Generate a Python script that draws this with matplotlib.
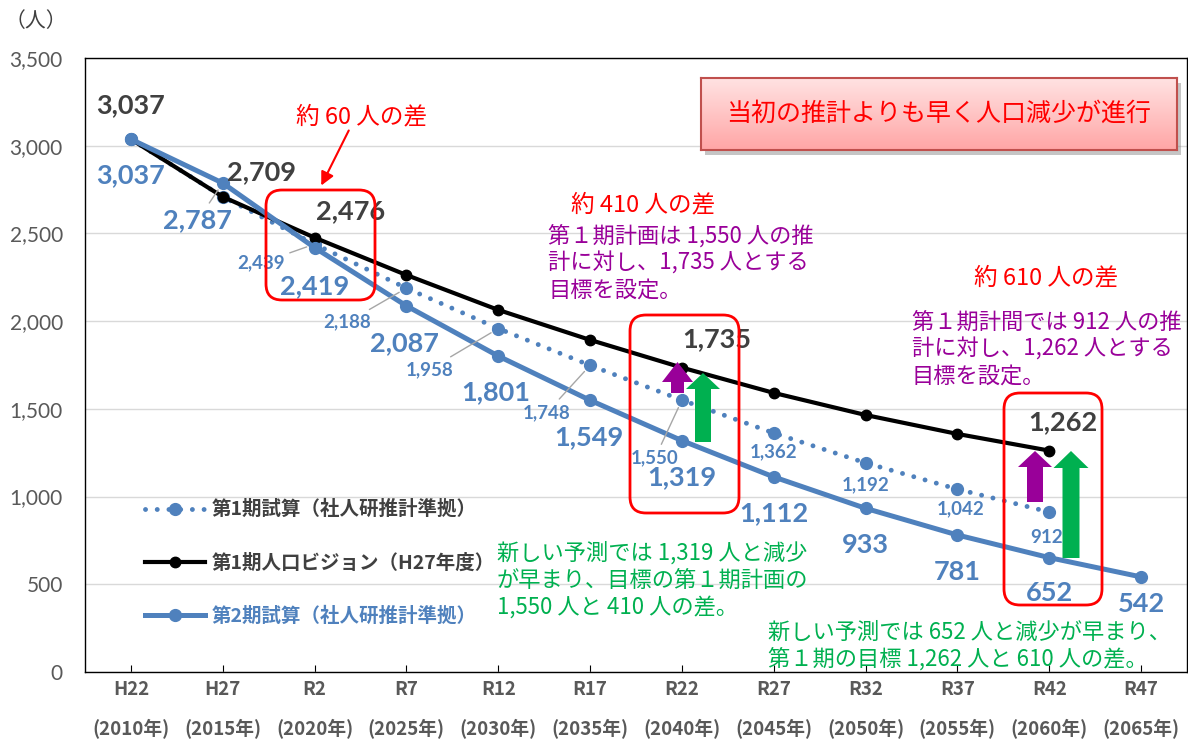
import numpy as np
import matplotlib
matplotlib.use("Agg")
import matplotlib.pyplot as plt
import matplotlib.patches as mpatches
import matplotlib.transforms as mtransforms

W, H = 1188, 745

categories = ["H22", "H27", "R2", "R7", "R12", "R17", "R22", "R27", "R32", "R37", "R42", "R47"]
years = ["2010", "2015", "2020", "2025", "2030", "2035", "2040", "2045", "2050", "2055", "2060", "2065"]

# 第1期試算（社人研推計準拠）
plan1_trial = [3037, 2709, 2439, 2188, 1958, 1748, 1550, 1362, 1192, 1042, 912, np.nan]
# 第1期人口ビジョン（H27年度）
vision = [3037, 2709, 2476, 2263, 2064, 1893, 1735, 1591, 1465, 1357, 1262, np.nan]
# 第2期試算（社人研推計準拠）
plan2_trial = [3037, 2787, 2419, 2087, 1801, 1549, 1319, 1112, 933, 781, 652, 542]

BLUE = "#4F81BD"
DARK = "#404040"
GRAY = "#595959"
PURPLE = "#990099"
GREEN = "#00B050"
JP = "Noto Sans CJK JP"
NUM = ["Lato", "Noto Sans CJK JP"]

plt.rcParams["font.family"] = [JP, "DejaVu Sans"]

fig = plt.figure(figsize=(W / 100, H / 100), dpi=100)
ax = fig.add_axes([85 / W, 1 - 672 / H, 1102 / W, 614 / H])
ax.set_zorder(1)

x = np.arange(len(categories))
ax.plot(x, plan1_trial, color=BLUE, lw=3.5, linestyle=(0, (0.01, 2.4)),
        dash_capstyle="round", marker="o", ms=8.5, zorder=2,
        label="第1期試算（社人研推計準拠）")
ax.plot(x, vision, color="black", lw=3, marker="o", ms=7.5, zorder=3,
        label="第1期人口ビジョン（H27年度）")
ax.plot(x, plan2_trial, color=BLUE, lw=3.6, marker="o", ms=8.5, zorder=4,
        label="第2期試算（社人研推計準拠）")

ax.set_xlim(-0.5, 11.5)
ax.set_ylim(0, 3500)
ax.set_yticks(np.arange(0, 3501, 500))
ax.set_yticklabels([f"{v:,}" for v in range(0, 3501, 500)], family=NUM,
                   fontsize=15, color=GRAY)
ax.set_xticks(x)
ax.set_xticklabels([f"{c}\n({y}年)" for c, y in zip(categories, years)],
                   fontsize=13.5, fontweight="bold", color=GRAY, linespacing=2.25)
ax.tick_params(axis="y", length=0, pad=16)
ax.tick_params(axis="x", direction="in", length=5, pad=6)
ax.grid(axis="y", color="#D9D9D9", lw=1)
ax.set_axisbelow(True)
for s in ax.spines.values():
    s.set_color("black")
    s.set_linewidth(1)

# data labels: (series, index, dx, dy, style, leader)
series = {"p1": plan1_trial, "v": vision, "p2": plan2_trial}
labels = [
    ("v", 0, 0, 34, "dark", False),
    ("p2", 0, 0, -36, "big", False),
    ("v", 1, 39, 25, "dark", False),
    ("p2", 1, -25, -37, "big", True),
    ("v", 2, 36, 26, "dark", False),
    ("p1", 2, -54, -19, "small", True),
    ("p2", 2, 0, -39, "big", False),
    ("p1", 3, -59, -34, "small", True),
    ("p2", 3, -2, -37, "big", False),
    ("p1", 4, -69, -41, "small", True),
    ("p2", 4, -2, -36, "big", False),
    ("p1", 5, -43, -47, "small", True),
    ("p2", 5, -1, -37, "big", False),
    ("p1", 6, -27, -58, "small", True),
    ("p2", 6, 0, -37, "big", False),
    ("v", 6, 35, 28, "dark", False),
    ("p1", 7, 0, -19, "small", False),
    ("p2", 7, 0, -36, "big", False),
    ("p1", 8, 0, -22, "small", False),
    ("p2", 8, 0, -37, "big", False),
    ("p1", 9, 3, -20, "small", False),
    ("p2", 9, 0, -37, "big", False),
    ("p1", 10, -3, -25, "small", False),
    ("p2", 10, 0, -35, "big", False),
    ("p2", 11, 0, -27, "big", False),
    ("v", 10, 14, 28, "dark", False),
]
styles = {"dark": (DARK, 19.5), "big": (BLUE, 19.5), "small": (BLUE, 13.5)}
for key, i, dx, dy, st, leader in labels:
    v = series[key][i]
    col, fs = styles[st]
    props = None
    if leader:
        props = dict(arrowstyle="-", color="#A6A6A6", lw=1, shrinkA=2, shrinkB=6)
    ax.annotate(f"{v:,}", xy=(i, v), xytext=(dx, dy), textcoords="offset pixels",
                ha="center", va="center", fontsize=fs, fontweight="bold",
                family=NUM, color=col, arrowprops=props, zorder=6)

leg = ax.legend(loc="upper left", bbox_to_anchor=(145 / W, 1 - 500 / H),
                bbox_transform=fig.transFigure, frameon=False, borderpad=0,
                borderaxespad=0, handlelength=3.1, handletextpad=0.35,
                labelspacing=1.75, prop=dict(family=JP, weight="bold", size=14))
for t, c in zip(leg.get_texts(), [DARK, DARK, BLUE]):
    t.set_color(c)

# overlay helpers in image pixels (origin top-left)
pix = mtransforms.Affine2D().scale(1, -1).translate(0, H)


def ftext(px, py, s, **kw):
    fig.text(px / W, 1 - py / H, s, **kw)


ftext(36, 21, "（人）", fontsize=15, color=DARK, ha="center", va="center")

for x0, y0, x1, y1 in [(266, 190, 375, 300), (630, 315, 739, 513), (1004, 393, 1102, 605)]:
    fig.add_artist(mpatches.FancyBboxPatch((x0, y0), x1 - x0, y1 - y0,
                                           boxstyle="round,pad=0,rounding_size=16",
                                           transform=pix, fill=False, ec="red",
                                           lw=2, zorder=3))

arrows = [(677.5, 393, 362, 13, 31, 20, PURPLE), (703, 442, 373, 16, 34, 16, GREEN),
          (1035, 502, 451, 16, 34, 16, PURPLE), (1071, 558, 451, 17, 35, 17, GREEN)]
for ax_x, yb, yt, w, hw, hl, c in arrows:
    fig.add_artist(mpatches.FancyArrow(ax_x, yb, 0, yt - yb, width=w, head_width=hw,
                                       head_length=hl, length_includes_head=True,
                                       transform=pix, color=c, lw=0, zorder=4))

fig.add_artist(mpatches.FancyArrowPatch((350, 128), (320, 188), transform=pix,
                                        arrowstyle="-|>", mutation_scale=20,
                                        color="red", lw=1.5, zorder=4))

ftext(362, 117, "約 60 人の差", fontsize=17, color="red", ha="center", va="center")
ftext(643, 205, "約 410 人の差", fontsize=17, color="red", ha="center", va="center")
ftext(1046, 278, "約 610 人の差", fontsize=17, color="red", ha="center", va="center")
ftext(548, 263, "第１期計画は 1,550 人の推\n計に対し、1,735 人とする\n目標を設定。",
      fontsize=16, color=PURPLE, ha="left", va="center", linespacing=1.2)
ftext(912, 349, "第１期計間では 912 人の推\n計に対し、1,262 人とする\n目標を設定。",
      fontsize=16, color=PURPLE, ha="left", va="center", linespacing=1.2)
ftext(497, 580, "新しい予測では 1,319 人と減少\nが早まり、目標の第１期計画の\n1,550 人と 410 人の差。",
      fontsize=16, color=GREEN, ha="left", va="center", linespacing=1.2)
ftext(768, 646, "新しい予測では 652 人と減少が早まり、\n第１期の目標 1,262 人と 610 人の差。",
      fontsize=16, color=GREEN, ha="left", va="center", linespacing=1.2)

# headline box with gradient and shadow
fig.add_artist(mpatches.Rectangle((705, 83), 476, 72, transform=pix, fc="#7F7F7F",
                                  alpha=0.45, lw=0, zorder=5))
bax = fig.add_axes([701 / W, 1 - 150 / H, 476 / W, 72 / H], zorder=6)
grad = np.linspace(0, 1, 100).reshape(-1, 1)
cmap = matplotlib.colors.LinearSegmentedColormap.from_list("pk", ["#FFE3E3", "#FFA6A6"])
bax.imshow(grad, aspect="auto", cmap=cmap, extent=(0, 1, 0, 1), origin="upper")
bax.set_xticks([])
bax.set_yticks([])
for s in bax.spines.values():
    s.set_color("#C0504D")
    s.set_linewidth(1.5)
bax.text(0.5, 0.5, "当初の推計よりも早く人口減少が進行", transform=bax.transAxes,
         ha="center", va="center", fontsize=18, color="red")

fig.savefig("out.png", dpi=100)
